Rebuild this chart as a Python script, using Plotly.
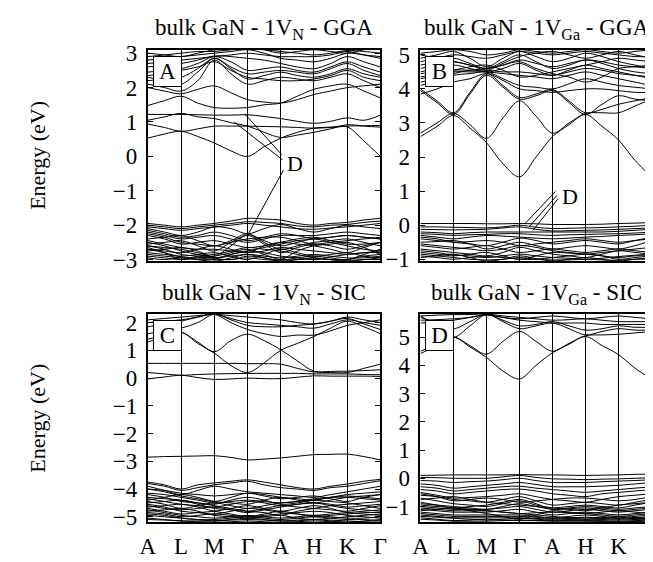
import plotly.graph_objects as go

# ---------------- data ----------------
K_LABELS = ["A", "L", "M", "Γ", "A", "H", "K", "Γ"]
K_POS = [0, 1, 2, 3, 4, 5, 6, 7]
K_SAMPLES = [0, 0.5, 1, 1.5, 2, 2.5, 3, 3.5, 4, 4.5, 5, 5.5, 6, 6.5, 7]

TITLES = ["bulk GaN - 1V<sub>N</sub> - GGA", "bulk GaN - 1V<sub>Ga</sub> - GGA",
          "bulk GaN - 1V<sub>N</sub> - SIC", "bulk GaN - 1V<sub>Ga</sub> - SIC"]
PANEL_TAGS = ["A", "B", "C", "D"]
Y_RANGES = [[-3.04, 3.1], [-1.05, 5.15], [-5.2, 2.31], [-1.56, 5.82]]
Y_TICKS = [[-3, -2, -1, 0, 1, 2, 3], [-1, 0, 1, 2, 3, 4, 5],
           [-5, -4, -3, -2, -1, 0, 1, 2], [-1, 0, 1, 2, 3, 4, 5]]

BANDS_A = [
    [0.53, 0.65, 0.73, 0.58, 0.39, 0.16, 0.00, 0.28, 0.53, 0.70, 0.82, 0.85, 0.86, 0.45, 0.00],
    [0.94, 0.84, 0.73, 0.80, 0.88, 0.88, 0.88, 0.87, 0.86, 0.84, 0.82, 0.84, 0.88, 0.89, 0.90],
    [1.22, 1.22, 1.22, 1.21, 1.20, 1.20, 1.21, 1.16, 1.10, 1.02, 0.96, 1.02, 1.12, 1.05, 1.20],
    [1.05, 1.15, 1.25, 1.15, 1.10, 0.98, 0.88, 0.70, 0.55, 0.62, 0.70, 0.80, 0.92, 0.88, 0.85],
    [1.48, 1.62, 1.75, 1.55, 1.42, 1.40, 1.42, 1.50, 1.55, 1.75, 1.95, 2.05, 2.10, 1.90, 1.70],
    [2.00, 1.90, 1.82, 1.95, 2.05, 1.85, 1.65, 1.58, 1.55, 1.65, 1.80, 1.90, 2.00, 2.05, 2.10],
    [2.10, 2.00, 1.90, 2.20, 2.80, 2.40, 2.10, 2.20, 2.30, 2.25, 2.20, 2.30, 2.40, 2.20, 2.00],
    [2.30, 2.20, 2.10, 2.45, 2.85, 2.55, 2.25, 2.35, 2.45, 2.35, 2.30, 2.40, 2.55, 2.40, 2.30],
    [2.45, 2.50, 2.55, 2.70, 2.90, 2.75, 2.50, 2.55, 2.60, 2.50, 2.45, 2.60, 2.75, 2.60, 2.45],
    [2.60, 2.65, 2.70, 2.80, 2.92, 2.90, 2.85, 2.80, 2.70, 2.60, 2.55, 2.70, 2.90, 2.75, 2.60],
    [2.80, 2.85, 2.90, 2.95, 3.00, 3.05, 3.10, 3.00, 2.85, 2.80, 2.75, 2.85, 3.00, 2.95, 2.90],
    [3.00, 2.95, 2.90, 3.00, 3.10, 3.15, 3.20, 3.10, 3.00, 3.05, 3.10, 3.05, 3.00, 3.10, 3.20],
    [2.35, 2.40, 2.50, 2.60, 2.75, 2.50, 2.30, 2.25, 2.20, 2.20, 2.25, 2.35, 2.50, 2.30, 2.20],
    [2.20, 2.25, 2.30, 2.55, 2.85, 2.60, 2.40, 2.45, 2.50, 2.45, 2.40, 2.55, 2.70, 2.50, 2.35],
    [2.70, 2.75, 2.80, 2.85, 2.90, 2.95, 3.00, 2.95, 2.90, 2.90, 2.90, 2.95, 3.05, 2.95, 2.85],
    [2.90, 2.95, 3.00, 3.05, 3.05, 3.10, 3.12, 3.10, 3.05, 3.00, 2.95, 3.00, 3.08, 3.05, 3.00],
    [-1.95, -2.00, -2.05, -2.00, -1.95, -1.88, -1.80, -1.82, -1.85, -1.95, -2.00, -1.95, -1.92, -1.85, -1.80],
    [-2.00, -2.05, -2.10, -2.05, -2.00, -1.95, -1.90, -1.92, -1.95, -2.02, -2.05, -2.00, -1.98, -1.92, -1.88],
    [-2.05, -2.10, -2.15, -2.10, -2.05, -2.00, -1.95, -2.00, -2.05, -2.10, -2.12, -2.08, -2.05, -2.00, -1.95],
    [-2.10, -2.20, -2.30, -2.20, -2.05, -2.10, -2.25, -2.10, -1.98, -2.10, -2.20, -2.10, -2.00, -2.05, -2.10],
    [-2.15, -2.25, -2.35, -2.30, -2.20, -2.30, -2.45, -2.35, -2.25, -2.30, -2.40, -2.35, -2.30, -2.35, -2.40],
    [-2.20, -2.30, -2.40, -2.35, -2.30, -2.40, -2.50, -2.40, -2.30, -2.30, -2.30, -2.25, -2.20, -2.25, -2.30],
    [-2.25, -2.35, -2.50, -2.55, -2.60, -2.50, -2.40, -2.35, -2.35, -2.45, -2.55, -2.50, -2.45, -2.40, -2.35],
    [-2.30, -2.40, -2.55, -2.50, -2.45, -2.55, -2.65, -2.60, -2.50, -2.40, -2.35, -2.45, -2.55, -2.55, -2.50],
    [-2.40, -2.35, -2.30, -2.45, -2.60, -2.45, -2.25, -2.50, -2.70, -2.60, -2.50, -2.45, -2.40, -2.50, -2.60],
    [-2.45, -2.55, -2.65, -2.70, -2.70, -2.75, -2.80, -2.75, -2.65, -2.70, -2.75, -2.80, -2.85, -2.80, -2.75],
    [-2.50, -2.60, -2.75, -2.85, -2.95, -2.85, -2.75, -2.65, -2.55, -2.45, -2.40, -2.35, -2.30, -2.35, -2.40],
    [-2.55, -2.50, -2.45, -2.60, -2.75, -2.50, -2.30, -2.55, -2.80, -2.65, -2.55, -2.60, -2.70, -2.60, -2.50],
    [-2.60, -2.65, -2.70, -2.80, -2.90, -2.60, -2.28, -2.45, -2.60, -2.50, -2.40, -2.50, -2.60, -2.70, -2.75],
    [-2.60, -2.70, -2.85, -2.90, -2.95, -2.90, -2.85, -2.90, -2.95, -2.90, -2.85, -2.90, -2.95, -2.95, -2.90],
    [-2.65, -2.80, -3.00, -2.90, -2.85, -2.75, -2.65, -2.70, -2.75, -2.85, -2.95, -3.00, -3.00, -2.90, -2.85],
    [-2.70, -2.75, -2.80, -2.70, -2.60, -2.70, -2.80, -2.60, -2.50, -2.55, -2.60, -2.70, -2.80, -2.65, -2.50],
    [-2.70, -2.80, -2.92, -2.95, -2.98, -2.85, -2.75, -2.80, -2.90, -2.95, -3.00, -2.92, -2.85, -2.80, -2.80],
    [-2.75, -2.70, -2.65, -2.75, -2.95, -3.00, -2.90, -2.95, -3.00, -2.75, -2.60, -2.55, -2.50, -2.65, -2.85],
    [-2.80, -2.85, -2.90, -2.85, -2.80, -2.90, -3.00, -2.85, -2.70, -2.80, -2.90, -2.85, -2.80, -2.90, -2.95],
    [-2.85, -2.90, -2.95, -3.00, -3.00, -3.00, -2.95, -3.00, -3.02, -3.00, -2.98, -3.00, -3.02, -3.00, -3.00],
    [-2.90, -2.95, -3.00, -2.95, -2.90, -2.80, -2.70, -2.85, -3.00, -2.95, -2.90, -2.95, -3.00, -2.85, -2.70],
    [-2.95, -3.00, -2.95, -3.00, -3.05, -2.95, -2.85, -2.95, -3.05, -3.00, -2.95, -3.00, -3.05, -3.00, -2.95],
]

BANDS_B = [
    [2.60, 2.90, 3.22, 2.85, 2.42, 1.80, 1.42, 2.00, 2.60, 2.95, 3.25, 2.90, 2.50, 1.90, 1.42],
    [2.70, 3.00, 3.28, 2.95, 2.55, 3.15, 3.65, 3.20, 2.70, 3.00, 3.28, 3.30, 3.30, 3.50, 3.70],
    [3.95, 3.60, 3.25, 3.85, 4.40, 4.05, 3.70, 3.80, 3.95, 3.60, 3.25, 3.55, 3.80, 3.70, 3.65],
    [4.00, 3.65, 3.30, 3.90, 4.45, 4.10, 3.75, 3.85, 3.98, 3.65, 3.30, 3.40, 3.55, 3.65, 3.75],
    [3.85, 4.00, 4.20, 4.30, 4.45, 4.25, 4.00, 3.95, 3.90, 3.95, 4.00, 4.00, 3.95, 3.90, 3.90],
    [4.10, 4.25, 4.40, 4.45, 4.50, 4.30, 4.10, 4.05, 4.00, 4.15, 4.30, 4.20, 4.10, 4.05, 4.00],
    [4.30, 4.40, 4.50, 4.50, 4.50, 4.45, 4.40, 4.35, 4.30, 4.40, 4.50, 4.40, 4.30, 4.20, 4.10],
    [4.35, 4.45, 4.55, 4.55, 4.55, 4.50, 4.50, 4.45, 4.40, 4.50, 4.60, 4.55, 4.45, 4.40, 4.35],
    [4.50, 4.60, 4.70, 4.60, 4.50, 4.60, 4.75, 4.55, 4.40, 4.55, 4.70, 4.60, 4.50, 4.40, 4.30],
    [4.60, 4.70, 4.80, 4.70, 4.60, 4.70, 4.85, 4.75, 4.65, 4.75, 4.85, 4.80, 4.70, 4.65, 4.60],
    [4.70, 4.80, 4.90, 4.75, 4.60, 4.80, 5.00, 4.80, 4.60, 4.70, 4.85, 4.75, 4.60, 4.50, 4.45],
    [4.80, 4.90, 5.00, 4.95, 4.90, 5.00, 5.10, 5.05, 5.00, 5.05, 5.10, 5.05, 5.00, 4.95, 4.95],
    [4.90, 5.00, 5.10, 4.90, 4.65, 4.90, 5.10, 4.95, 4.80, 4.90, 5.05, 4.95, 4.80, 4.70, 4.60],
    [4.20, 4.30, 4.45, 4.55, 4.60, 4.70, 4.80, 4.60, 4.45, 4.35, 4.20, 4.35, 4.60, 4.65, 4.70],
    [4.45, 4.50, 4.55, 4.65, 4.70, 4.55, 4.35, 4.40, 4.50, 4.60, 4.70, 4.80, 4.90, 4.85, 4.80],
    [5.00, 4.90, 4.80, 4.70, 4.55, 4.75, 4.95, 5.05, 5.10, 5.00, 4.90, 5.00, 5.10, 5.00, 4.90],
    [5.05, 5.10, 5.15, 5.10, 5.00, 5.05, 5.15, 5.10, 5.05, 5.10, 5.15, 5.10, 5.05, 5.10, 5.15],
    [0.05, 0.05, 0.05, 0.05, 0.04, 0.04, 0.05, 0.04, 0.02, 0.02, 0.02, 0.03, 0.05, 0.06, 0.08],
    [-0.05, -0.05, -0.06, -0.07, -0.08, -0.05, 0.00, -0.06, -0.10, -0.09, -0.08, -0.07, -0.05, -0.03, 0.00],
    [-0.12, -0.13, -0.14, -0.13, -0.12, -0.08, -0.05, -0.12, -0.17, -0.16, -0.15, -0.14, -0.12, -0.10, -0.08],
    [-0.20, -0.22, -0.25, -0.22, -0.20, -0.20, -0.20, -0.20, -0.20, -0.20, -0.20, -0.20, -0.18, -0.15, -0.12],
    [-0.25, -0.27, -0.30, -0.28, -0.27, -0.25, -0.25, -0.28, -0.30, -0.28, -0.27, -0.26, -0.25, -0.23, -0.20],
    [-0.30, -0.35, -0.40, -0.35, -0.30, -0.32, -0.35, -0.38, -0.40, -0.38, -0.35, -0.33, -0.30, -0.28, -0.25],
    [-0.35, -0.40, -0.50, -0.55, -0.60, -0.50, -0.38, -0.45, -0.55, -0.50, -0.45, -0.50, -0.55, -0.45, -0.35],
    [-0.40, -0.45, -0.50, -0.48, -0.45, -0.50, -0.60, -0.55, -0.50, -0.45, -0.40, -0.45, -0.50, -0.45, -0.40],
    [-0.50, -0.48, -0.45, -0.55, -0.70, -0.60, -0.50, -0.60, -0.70, -0.65, -0.60, -0.65, -0.70, -0.60, -0.45],
    [-0.55, -0.60, -0.65, -0.70, -0.75, -0.70, -0.60, -0.65, -0.75, -0.80, -0.85, -0.80, -0.75, -0.70, -0.65],
    [-0.60, -0.65, -0.70, -0.65, -0.60, -0.70, -0.80, -0.75, -0.70, -0.75, -0.80, -0.75, -0.70, -0.75, -0.80],
    [-0.70, -0.75, -0.80, -0.85, -0.90, -0.80, -0.65, -0.75, -0.85, -0.90, -0.95, -0.85, -0.75, -0.80, -0.85],
    [-0.75, -0.80, -0.88, -0.90, -0.95, -0.90, -0.85, -0.90, -0.95, -0.97, -1.00, -0.97, -0.92, -0.88, -0.85],
    [-0.80, -0.85, -0.90, -0.85, -0.80, -0.90, -1.00, -0.90, -0.80, -0.82, -0.85, -0.90, -0.95, -0.90, -0.90],
    [-0.85, -0.90, -0.95, -1.00, -1.02, -1.00, -0.95, -1.00, -1.02, -1.02, -1.00, -1.02, -1.03, -1.00, -1.00],
    [-0.90, -0.95, -1.00, -0.95, -0.92, -0.95, -1.00, -1.00, -0.95, -0.90, -0.85, -0.90, -1.00, -0.95, -0.90],
    [-0.95, -0.90, -0.85, -0.95, -1.05, -1.00, -0.90, -0.98, -1.05, -1.00, -0.95, -1.00, -1.05, -1.00, -0.95],
]

BANDS_C = [
    [0.53, 0.53, 0.53, 0.53, 0.53, 0.53, 0.52, 0.52, 0.50, 0.35, 0.22, 0.20, 0.20, 0.35, 0.50],
    [0.20, 0.15, 0.10, 0.13, 0.15, 0.16, 0.17, 0.17, 0.17, 0.17, 0.15, 0.15, 0.15, 0.13, 0.12],
    [-0.03, 0.04, 0.10, 0.02, -0.05, -0.03, 0.00, -0.02, -0.02, 0.03, 0.08, 0.07, 0.07, 0.07, 0.06],
    [1.30, 1.50, 1.65, 1.25, 0.90, 0.45, 0.20, 0.55, 1.00, 1.25, 1.50, 1.80, 2.05, 1.85, 1.60],
    [1.40, 1.55, 1.65, 1.30, 0.95, 1.35, 1.58, 1.35, 1.02, 0.62, 0.25, 0.24, 0.25, 0.27, 0.30],
    [1.85, 1.95, 2.05, 2.20, 2.30, 2.00, 1.75, 1.60, 1.50, 1.55, 1.55, 1.70, 1.90, 2.00, 2.10],
    [2.00, 2.05, 2.10, 2.20, 2.30, 2.15, 2.00, 1.95, 1.90, 1.85, 1.80, 1.95, 2.10, 2.00, 1.90],
    [2.10, 2.15, 2.20, 2.25, 2.30, 2.25, 2.20, 2.15, 2.10, 2.00, 1.95, 2.05, 2.20, 2.10, 2.00],
    [1.60, 1.70, 1.80, 2.00, 2.30, 2.10, 1.90, 1.85, 1.85, 1.90, 1.95, 2.05, 2.15, 1.95, 1.75],
    [-2.85, -2.83, -2.82, -2.81, -2.80, -2.86, -2.95, -2.92, -2.88, -2.82, -2.76, -2.75, -2.74, -2.83, -2.95],
    [-3.75, -3.85, -4.00, -3.85, -3.78, -3.72, -3.67, -3.75, -3.85, -3.95, -4.00, -3.90, -3.82, -3.72, -3.65],
    [-3.80, -3.90, -4.05, -3.95, -3.85, -3.78, -3.72, -3.85, -3.95, -4.00, -4.05, -3.95, -3.90, -3.80, -3.70],
    [-3.90, -4.05, -4.20, -4.05, -3.90, -4.00, -4.10, -4.15, -4.20, -4.25, -4.30, -4.20, -4.10, -4.00, -3.90],
    [-4.00, -4.05, -4.15, -4.20, -4.25, -4.20, -4.15, -4.20, -4.30, -4.35, -4.40, -4.30, -4.20, -4.15, -4.10],
    [-4.00, -4.10, -4.25, -4.35, -4.45, -4.30, -4.15, -4.25, -4.35, -4.30, -4.25, -4.35, -4.45, -4.30, -4.20],
    [-4.15, -4.20, -4.30, -4.40, -4.50, -4.45, -4.40, -4.45, -4.50, -4.45, -4.35, -4.30, -4.30, -4.35, -4.40],
    [-4.20, -4.30, -4.45, -4.50, -4.55, -4.40, -4.30, -4.40, -4.55, -4.50, -4.40, -4.30, -4.25, -4.30, -4.35],
    [-4.30, -4.35, -4.40, -4.55, -4.70, -4.75, -4.80, -4.70, -4.60, -4.65, -4.70, -4.75, -4.80, -4.70, -4.60],
    [-4.35, -4.45, -4.55, -4.60, -4.65, -4.55, -4.45, -4.50, -4.60, -4.55, -4.50, -4.55, -4.65, -4.60, -4.55],
    [-4.40, -4.30, -4.20, -4.30, -4.45, -4.50, -4.55, -4.40, -4.30, -4.40, -4.50, -4.40, -4.30, -4.25, -4.20],
    [-4.45, -4.55, -4.70, -4.60, -4.50, -4.60, -4.70, -4.60, -4.50, -4.45, -4.40, -4.45, -4.50, -4.60, -4.70],
    [-4.50, -4.45, -4.40, -4.50, -4.60, -4.70, -4.80, -4.85, -4.95, -4.80, -4.70, -4.60, -4.55, -4.50, -4.45],
    [-4.55, -4.65, -4.80, -4.85, -4.90, -4.80, -4.70, -4.75, -4.85, -4.90, -4.95, -4.90, -4.85, -4.80, -4.75],
    [-4.60, -4.70, -4.75, -4.70, -4.65, -4.75, -4.85, -4.75, -4.65, -4.55, -4.50, -4.60, -4.70, -4.75, -4.80],
    [-4.65, -4.60, -4.55, -4.65, -4.80, -4.90, -5.00, -4.90, -4.80, -4.90, -5.00, -4.95, -4.90, -4.85, -4.85],
    [-4.70, -4.80, -4.90, -4.85, -4.80, -4.70, -4.60, -4.70, -4.80, -4.70, -4.60, -4.70, -4.85, -4.90, -4.95],
    [-4.75, -4.85, -4.95, -5.00, -5.05, -5.00, -4.95, -5.00, -5.05, -5.00, -4.95, -5.00, -5.05, -5.05, -5.00],
    [-4.80, -4.75, -4.70, -4.80, -4.95, -5.00, -5.05, -5.00, -4.95, -5.05, -5.10, -5.05, -5.00, -4.95, -4.90],
    [-4.85, -4.90, -5.00, -4.95, -4.90, -4.95, -5.00, -4.95, -4.90, -4.85, -4.80, -4.85, -4.95, -5.00, -5.05],
    [-4.90, -4.95, -5.05, -5.10, -5.15, -5.12, -5.10, -5.12, -5.15, -5.12, -5.10, -5.12, -5.15, -5.18, -5.20],
    [-4.95, -5.00, -5.05, -5.10, -5.10, -5.05, -5.00, -5.05, -5.10, -5.05, -5.00, -5.05, -5.10, -5.10, -5.15],
    [-5.05, -5.10, -5.15, -5.15, -5.15, -5.10, -5.05, -5.10, -5.15, -5.15, -5.10, -5.15, -5.20, -5.15, -5.10],
    [-5.10, -5.12, -5.15, -5.18, -5.20, -5.18, -5.15, -5.18, -5.20, -5.18, -5.15, -5.18, -5.20, -5.20, -5.20],
]

BANDS_D = [
    [4.42, 4.70, 5.00, 4.65, 4.28, 3.80, 3.52, 4.00, 4.45, 4.75, 5.02, 4.70, 4.38, 3.90, 3.52],
    [4.50, 4.75, 5.00, 4.70, 4.40, 4.85, 5.20, 4.85, 4.50, 4.78, 5.05, 5.08, 5.10, 5.15, 5.20],
    [5.75, 5.40, 5.00, 5.40, 5.80, 5.55, 5.30, 5.40, 5.50, 5.30, 5.08, 5.20, 5.30, 5.25, 5.25],
    [5.70, 5.50, 5.30, 5.55, 5.80, 5.60, 5.40, 5.45, 5.55, 5.40, 5.25, 5.30, 5.40, 5.35, 5.35],
    [5.60, 5.62, 5.65, 5.70, 5.78, 5.70, 5.60, 5.55, 5.50, 5.50, 5.50, 5.45, 5.45, 5.45, 5.45],
    [5.75, 5.78, 5.80, 5.80, 5.82, 5.75, 5.70, 5.65, 5.60, 5.62, 5.65, 5.60, 5.55, 5.55, 5.55],
    [5.50, 5.55, 5.60, 5.70, 5.80, 5.70, 5.65, 5.70, 5.75, 5.70, 5.65, 5.70, 5.75, 5.70, 5.65],
    [0.10, 0.11, 0.12, 0.12, 0.12, 0.12, 0.13, 0.12, 0.12, 0.11, 0.10, 0.11, 0.12, 0.14, 0.15],
    [0.03, 0.02, 0.00, 0.00, 0.00, 0.05, 0.10, 0.03, -0.02, -0.03, -0.05, -0.03, -0.02, 0.00, 0.02],
    [-0.08, -0.10, -0.15, -0.12, -0.10, -0.05, 0.00, -0.08, -0.15, -0.15, -0.15, -0.12, -0.10, -0.08, -0.05],
    [-0.20, -0.25, -0.35, -0.30, -0.25, -0.20, -0.15, -0.22, -0.30, -0.30, -0.30, -0.28, -0.25, -0.20, -0.15],
    [-0.30, -0.35, -0.45, -0.40, -0.35, -0.30, -0.28, -0.35, -0.40, -0.45, -0.50, -0.45, -0.40, -0.35, -0.30],
    [-0.40, -0.45, -0.55, -0.50, -0.45, -0.40, -0.38, -0.45, -0.55, -0.60, -0.65, -0.55, -0.50, -0.45, -0.40],
    [-0.50, -0.60, -0.70, -0.68, -0.65, -0.60, -0.55, -0.65, -0.75, -0.80, -0.85, -0.75, -0.65, -0.60, -0.55],
    [-0.55, -0.65, -0.80, -0.75, -0.70, -0.75, -0.85, -0.80, -0.75, -0.70, -0.70, -0.75, -0.80, -0.75, -0.65],
    [-0.60, -0.65, -0.75, -0.80, -0.85, -0.75, -0.65, -0.80, -0.95, -0.90, -0.85, -0.90, -0.95, -0.85, -0.75],
    [-0.70, -0.80, -0.90, -0.95, -1.00, -0.90, -0.80, -0.95, -1.05, -1.10, -1.15, -1.05, -0.95, -0.90, -0.85],
    [-0.75, -0.70, -0.65, -0.75, -0.85, -0.90, -0.95, -1.00, -1.05, -1.00, -0.95, -1.00, -1.05, -0.95, -0.85],
    [-0.85, -0.95, -1.05, -1.00, -0.95, -0.85, -0.75, -0.90, -1.10, -1.05, -1.00, -1.05, -1.10, -1.05, -1.00],
    [-0.90, -0.95, -1.00, -1.05, -1.10, -1.00, -0.90, -1.00, -1.10, -1.08, -1.05, -1.10, -1.15, -1.10, -1.05],
    [-0.95, -1.00, -1.05, -1.15, -1.25, -1.35, -1.45, -1.30, -1.15, -1.20, -1.25, -1.30, -1.35, -1.30, -1.25],
    [-1.00, -1.05, -1.10, -1.10, -1.10, -1.05, -1.00, -1.10, -1.20, -1.15, -1.10, -1.15, -1.20, -1.15, -1.10],
    [-1.05, -1.10, -1.15, -1.15, -1.15, -1.20, -1.25, -1.22, -1.20, -1.22, -1.25, -1.20, -1.15, -1.20, -1.25],
    [-1.10, -1.15, -1.20, -1.20, -1.20, -1.15, -1.10, -1.20, -1.30, -1.25, -1.20, -1.25, -1.30, -1.25, -1.20],
    [-1.15, -1.10, -1.05, -1.10, -1.15, -1.20, -1.25, -1.30, -1.35, -1.40, -1.45, -1.40, -1.35, -1.40, -1.45],
    [-1.20, -1.25, -1.30, -1.30, -1.30, -1.30, -1.30, -1.35, -1.40, -1.35, -1.30, -1.35, -1.40, -1.35, -1.30],
    [-1.25, -1.30, -1.35, -1.35, -1.35, -1.35, -1.35, -1.38, -1.42, -1.40, -1.38, -1.40, -1.42, -1.40, -1.35],
    [-1.30, -1.35, -1.40, -1.40, -1.40, -1.40, -1.40, -1.42, -1.45, -1.42, -1.40, -1.42, -1.45, -1.42, -1.40],
    [-1.35, -1.38, -1.42, -1.45, -1.48, -1.45, -1.42, -1.45, -1.48, -1.46, -1.45, -1.46, -1.48, -1.46, -1.45],
    [-1.40, -1.45, -1.50, -1.48, -1.45, -1.48, -1.50, -1.50, -1.50, -1.50, -1.50, -1.50, -1.52, -1.50, -1.48],
    [-1.45, -1.48, -1.52, -1.52, -1.52, -1.50, -1.48, -1.50, -1.52, -1.52, -1.52, -1.53, -1.54, -1.53, -1.52],
]

PANEL_BANDS = [BANDS_A, BANDS_B, BANDS_C, BANDS_D]

# "D" defect-state pointers: (panel, label x, label y, [(x0, y0, x1, y1), ...]) in data units
D_LABELS = [
    (0, 4.42, -0.20, [(2.91, 1.24, 4.03, 0.05), (2.60, 1.00, 4.05, -0.10), (3.01, -2.28, 4.08, -0.40)]),
    (1, 4.54, 0.84, [(3.18, 0.06, 4.09, 0.99), (3.28, -0.06, 4.14, 0.88), (3.41, -0.15, 4.16, 0.77)]),
]

# ---------------- layout ----------------
W, H = 653, 562
FONT = "Liberation Serif"
X_DOM = [[135 / W, 373 / W], [414 / W, 650.5 / W], [135 / W, 373 / W], [414 / W, 650.5 / W]]
Y_DOM = [[1 - 254 / H, 1 - 35 / H], [1 - 254 / H, 1 - 35 / H],
         [1 - 525 / H, 1 - 309 / H], [1 - 525 / H, 1 - 309 / H]]

fig = go.Figure()
layout = dict(width=W, height=H, margin=dict(l=0, r=0, t=0, b=0),
              paper_bgcolor="white", plot_bgcolor="white", showlegend=False,
              font=dict(family=FONT, size=22, color="black"))
annotations = []
shapes = []

for p in range(4):
    sfx = "" if p == 0 else str(p + 1)
    xa, ya = "x" + sfx, "y" + sfx
    for band in PANEL_BANDS[p]:
        fig.add_trace(go.Scatter(x=K_SAMPLES, y=band, mode="lines", xaxis=xa, yaxis=ya,
                                 line=dict(color="black", width=1, shape="spline", smoothing=1.0),
                                 hoverinfo="skip", showlegend=False))
    layout["xaxis" + sfx] = dict(domain=X_DOM[p], anchor=ya, range=[0, 7],
                                 tickmode="array", tickvals=K_POS, ticktext=K_LABELS,
                                 showticklabels=(p >= 2), ticks="",
                                 showgrid=True, gridcolor="black", gridwidth=1,
                                 showline=True, linecolor="black", linewidth=2, mirror=True,
                                 zeroline=False, ticklabelstandoff=2, ticklabeloverflow="allow",
                                 tickfont=dict(family=FONT, size=23, color="black"))
    layout["yaxis" + sfx] = dict(domain=Y_DOM[p], anchor=xa, range=Y_RANGES[p],
                                 tickmode="array", tickvals=Y_TICKS[p],
                                 ticks="inside", ticklen=5, tickwidth=1, tickcolor="black",
                                 showgrid=False, zeroline=False,
                                 showline=True, linecolor="black", linewidth=2, mirror="ticks",
                                 ticklabelstandoff=4,
                                 tickfont=dict(family=FONT, size=23, color="black"))
    # panel title
    ty = 13 if p < 2 else 288
    annotations.append(dict(text=TITLES[p], xref=xa + " domain", yref="paper",
                            x=0.5, y=1 - ty / H, xanchor="center", yanchor="middle",
                            showarrow=False, font=dict(family=FONT, size=23, color="black")))
    # panel tag box
    annotations.append(dict(text=PANEL_TAGS[p], xref=xa + " domain", yref=ya + " domain",
                            x=5 / 237, y=1 - 6 / 219, xanchor="left", yanchor="top",
                            showarrow=False, bgcolor="white", bordercolor="black",
                            borderwidth=1, borderpad=1, width=25, height=27,
                            font=dict(family=FONT, size=23, color="black")))

# y-axis titles
for yc in [(34 + 255) / 2, (308 + 526) / 2]:
    annotations.append(dict(text="Energy (eV)", xref="paper", yref="paper",
                            x=22 / W, y=1 - yc / H, xanchor="center", yanchor="middle",
                            textangle=-90, showarrow=False,
                            font=dict(family=FONT, size=22, color="black")))

# D pointers
for p, lx, ly, segs in D_LABELS:
    sfx = "" if p == 0 else str(p + 1)
    annotations.append(dict(text="D", xref="x" + sfx, yref="y" + sfx, x=lx, y=ly,
                            xanchor="center", yanchor="middle", showarrow=False,
                            font=dict(family=FONT, size=22, color="black")))
    for x0, y0, x1, y1 in segs:
        shapes.append(dict(type="line", xref="x" + sfx, yref="y" + sfx,
                           x0=x0, y0=y0, x1=x1, y1=y1,
                           line=dict(color="black", width=1)))

layout["annotations"] = annotations
layout["shapes"] = shapes
fig.update_layout(**layout)
fig.write_html("out.html")
